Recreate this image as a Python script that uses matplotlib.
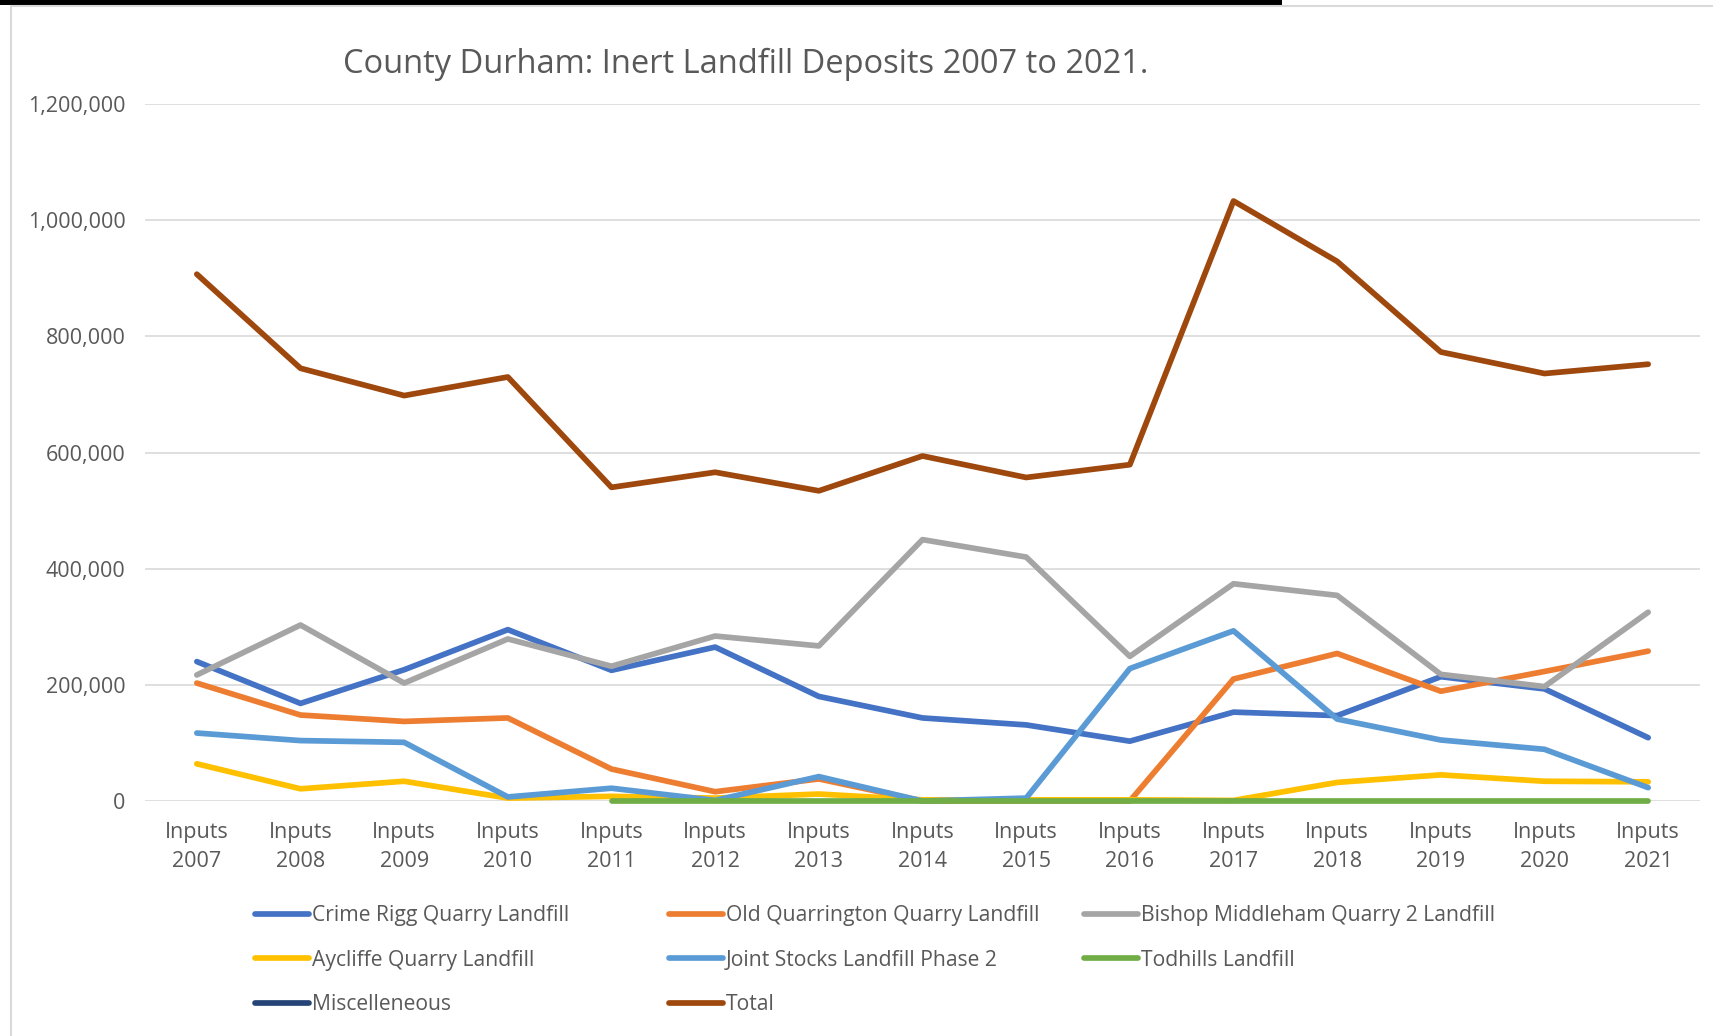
import numpy as np
import matplotlib
matplotlib.use('Agg')
import matplotlib.pyplot as plt
from matplotlib.ticker import FuncFormatter
from matplotlib.lines import Line2D

plt.rcParams['font.family'] = ['Open Sans', 'DejaVu Sans']

# Data
years = ['2007', '2008', '2009', '2010', '2011', '2012', '2013', '2014',
         '2015', '2016', '2017', '2018', '2019', '2020', '2021']
tick_labels = ['Inputs\n' + y for y in years]
nan = np.nan

crime_rigg = [240000, 168000, 226000, 295000, 225000, 265000, 180000, 143000,
              131000, 103000, 153000, 147000, 214000, 193000, 109000]
old_quarrington = [203000, 148000, 137000, 143000, 55000, 16000, 38000, 0,
                   0, 0, 210000, 254000, 189000, 223000, 258000]
bishop_middleham = [217000, 303000, 203000, 279000, 232000, 284000, 267000, 450000,
                    420000, 249000, 374000, 354000, 218000, 197000, 325000]
aycliffe = [64000, 21000, 34000, 5000, 8000, 5000, 12000, 2000,
            2000, 2000, 1000, 32000, 45000, 34000, 33000]
joint_stocks = [117000, 104000, 101000, 7000, 22000, 1000, 42000, 0,
                5000, 228000, 293000, 141000, 105000, 89000, 23000]
todhills = [nan, nan, nan, nan, 0, 0, 0, 0, 0, 0, 0, 0, 0, 0, 0]
miscelleneous = [nan] * 15
total = [907000, 745000, 698000, 730000, 540000, 566000, 534000, 594000,
         557000, 579000, 1033000, 929000, 773000, 736000, 752000]

series = [
    ('Crime Rigg Quarry Landfill', crime_rigg, '#4472C4'),
    ('Old Quarrington Quarry Landfill', old_quarrington, '#ED7D31'),
    ('Bishop Middleham Quarry 2 Landfill', bishop_middleham, '#A5A5A5'),
    ('Aycliffe Quarry Landfill', aycliffe, '#FFC000'),
    ('Joint Stocks Landfill Phase 2', joint_stocks, '#5B9BD5'),
    ('Todhills Landfill', todhills, '#70AD47'),
    ('Miscelleneous', miscelleneous, '#264478'),
    ('Total', total, '#9E480E'),
]

W, H = 1713, 1036
fig = plt.figure(figsize=(W / 100, H / 100), dpi=100)
txt = '#595959'
fs = 15.5

# frame pieces of the screenshot
fig.add_artist(Line2D([11 / W, 11 / W], [0, 1 - 6 / H], transform=fig.transFigure,
                      color='#D9D9D9', lw=1.5))
fig.add_artist(Line2D([11 / W, 1], [1 - 6 / H, 1 - 6 / H], transform=fig.transFigure,
                      color='#D9D9D9', lw=1.5))
fig.add_artist(plt.Rectangle((0, 1 - 4.5 / H), 1282 / W, 4.5 / H, transform=fig.transFigure,
                             color='black', lw=0))

ax = fig.add_axes([145 / W, 1 - 801 / H, 1555 / W, 697 / H])
x = np.arange(len(years))
handles = []
for name, vals, col in series:
    ln, = ax.plot(x, vals, color=col, lw=4.1, solid_capstyle='round',
                  solid_joinstyle='round', clip_on=False, label=name)
    handles.append(ln)

ax.set_xlim(-0.5, len(years) - 0.5)
ax.set_ylim(0, 1200000)
ax.set_yticks(np.arange(0, 1200001, 200000))
ax.yaxis.set_major_formatter(FuncFormatter(lambda v, p: f'{int(v):,}'))
ax.set_xticks(x)
ax.set_xticklabels(tick_labels, linespacing=1.5)
ax.tick_params(axis='both', length=0, labelsize=fs, colors=txt)
ax.tick_params(axis='y', pad=14)
ax.tick_params(axis='x', pad=15)
ax.grid(axis='y', color='#D9D9D9', lw=1.2)
ax.set_axisbelow(True)
for s in ax.spines.values():
    s.set_visible(False)

fig.text(746 / W, 1 - 73 / H, 'County Durham: Inert Landfill Deposits 2007 to 2021.',
         ha='center', va='baseline', fontsize=23.5, color=txt)

# legend in three equal-width columns, filled row by row
cols = [[0, 3, 6], [1, 4, 7], [2, 5]]
col_x = [255, 669, 1084]
for idx, cx in zip(cols, col_x):
    leg = fig.legend(handles=[handles[i] for i in idx], loc='upper left',
                     bbox_to_anchor=(cx / W, 1 - 905 / H), frameon=False,
                     borderpad=0, borderaxespad=0, handlelength=2.55,
                     handletextpad=0.15, labelspacing=1.12, fontsize=15.2)
    for t in leg.get_texts():
        t.set_color(txt)

fig.savefig('out.png', dpi=100)
